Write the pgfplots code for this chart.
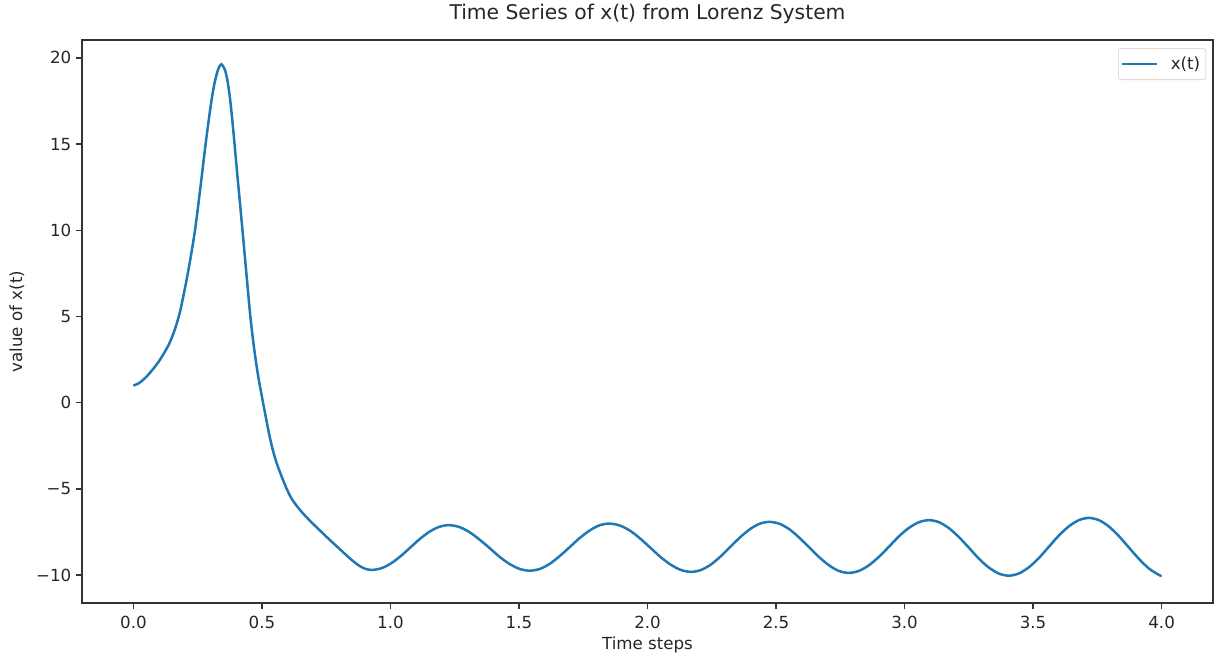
\documentclass[border=0pt]{standalone}
\usepackage{fontspec}
\setmainfont{DejaVu Sans}
\usepackage{pgfplots}
\pgfplotsset{compat=1.18}
\definecolor{mplblue}{HTML}{1F77B4}
\begin{document}
\begin{tikzpicture}
\begin{axis}[
  name=ax,
  scale only axis,
  width=814.3pt, height=405.4pt,
  xmin=-0.2, xmax=4.2,
  ymin=-11.62, ymax=21.04,
  axis line style={black!80, line width=0.96pt},
  tick align=outside,
  tick pos=left,
  major tick length=4.2pt,
  tick style={black!80, line width=0.96pt},
  xtick={0,0.5,1,1.5,2,2.5,3,3.5,4},
  xticklabels={0.0,0.5,1.0,1.5,2.0,2.5,3.0,3.5,4.0},
  ytick={-10,-5,0,5,10,15,20},
  yticklabels={−10,−5,0,5,10,15,20},
  ticklabel style={font=\fontsize{12}{14}\selectfont, text=black!85},
  xticklabel style={yshift=-1.5pt},
  title={Time Series of x(t) from Lorenz System},
  title style={at={(axis description cs:0.5,1)}, anchor=base, yshift=8.6pt, font=\fontsize{14.6}{17}\selectfont, text=black!85},
  xlabel={Time steps},
  xlabel style={at={(axis description cs:0.5,-0.0745)}, anchor=center, font=\fontsize{12}{14}\selectfont, text=black!85},
  ylabel={value of x(t)},
  ylabel style={at={(axis description cs:-0.0575,0.5)}, anchor=center, font=\fontsize{12}{14}\selectfont, text=black!85},
  legend style={at={(axis description cs:1,1)}, anchor=north east, xshift=-5pt, yshift=-5.8pt,
    draw=black!20, rounded corners=2pt, inner xsep=2pt, inner ysep=4pt,
    font=\fontsize{12}{14}\selectfont, text=black!85,
    /tikz/every odd column/.append style={column sep=7pt}},
  legend image code/.code={\draw[#1] (0pt,0pt) -- (25pt,0pt);},
]
\addplot[color=mplblue, line width=1.8pt, smooth, tension=0.5] coordinates {
(0.000,1.00) (0.020,1.12) (0.040,1.36) (0.060,1.66) (0.080,2.02) (0.100,2.42)
(0.120,2.90) (0.140,3.45) (0.160,4.20) (0.180,5.20) (0.200,6.60) (0.220,8.20)
(0.240,10.05) (0.260,12.40) (0.280,14.90) (0.300,17.15) (0.315,18.50) (0.330,19.35)
(0.342,19.63) (0.355,19.35) (0.365,18.75) (0.375,17.75) (0.385,16.35) (0.395,14.75)
(0.405,13.10) (0.416,11.35) (0.428,9.40) (0.441,7.25) (0.455,5.00) (0.467,3.45)
(0.480,2.05) (0.490,1.15) (0.500,0.35) (0.514,-0.75) (0.527,-1.75) (0.540,-2.60)
(0.555,-3.40) (0.572,-4.10) (0.595,-4.95) (0.617,-5.60) (0.650,-6.25) (0.687,-6.85)
(0.725,-7.40) (0.765,-7.97) (0.805,-8.52) (0.843,-9.04) (0.875,-9.42) (0.900,-9.62)
(0.927,-9.70)
(0.9645,-9.60) (1.002,-9.32) (1.0395,-8.90) (1.077,-8.40) (1.1145,-7.90) (1.152,-7.48) (1.1895,-7.20) (1.227,-7.10)
(1.266,-7.20) (1.306,-7.49) (1.345,-7.92) (1.385,-8.42) (1.424,-8.93) (1.463,-9.35) (1.503,-9.64) (1.542,-9.74)
(1.581,-9.64) (1.620,-9.34) (1.658,-8.90) (1.697,-8.38) (1.736,-7.85) (1.775,-7.41) (1.813,-7.11) (1.852,-7.01)
(1.892,-7.12) (1.932,-7.42) (1.971,-7.87) (2.011,-8.41) (2.051,-8.95) (2.091,-9.40) (2.130,-9.70) (2.170,-9.81)
(2.208,-9.70) (2.246,-9.39) (2.284,-8.92) (2.322,-8.36) (2.360,-7.81) (2.398,-7.34) (2.436,-7.02) (2.474,-6.91)
(2.513,-7.02) (2.552,-7.34) (2.590,-7.82) (2.629,-8.39) (2.668,-8.96) (2.707,-9.44) (2.745,-9.76) (2.784,-9.87)
(2.823,-9.75) (2.862,-9.42) (2.901,-8.93) (2.940,-8.34) (2.978,-7.75) (3.017,-7.26) (3.056,-6.93) (3.095,-6.81)
(3.134,-6.93) (3.173,-7.28) (3.212,-7.80) (3.251,-8.42) (3.289,-9.04) (3.328,-9.56) (3.367,-9.91) (3.406,-10.03)
(3.445,-9.90) (3.484,-9.54) (3.523,-9.00) (3.561,-8.36) (3.600,-7.71) (3.639,-7.17) (3.678,-6.81) (3.717,-6.68)
(3.756,-6.81) (3.795,-7.18) (3.834,-7.74) (3.873,-8.40) (3.912,-9.06) (3.951,-9.62) (3.990,-9.99) (4.000,-10.05)
};
\addlegendentry{x(t)}
\coordinate (sw) at (rel axis cs:0,0);
\coordinate (ne) at (rel axis cs:1,1);
\end{axis}
\pgfresetboundingbox
\path ([shift={(-59.04pt,-40.32pt)}]sw) rectangle ([shift={(1.44pt,28.8pt)}]ne);
\end{tikzpicture}
\end{document}
